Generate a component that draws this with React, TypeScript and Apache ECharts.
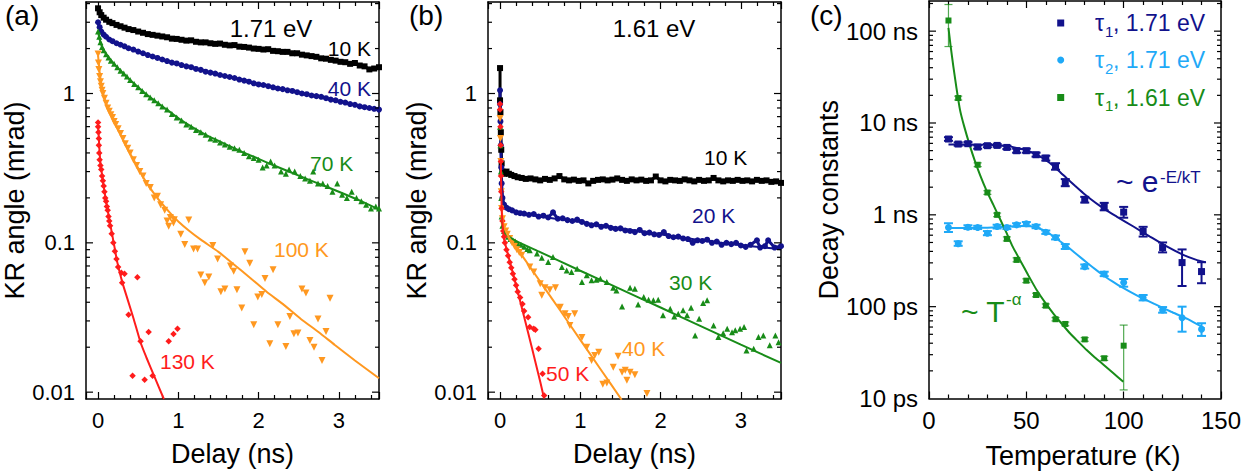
import React, { useEffect, useRef } from 'react';
import * as echarts from 'echarts';

const FONT = '"Liberation Sans", Arial, Helvetica, sans-serif';
const BLACK = '#000000';
const NAVY = '#12128c';
const GREEN = '#188c18';
const ORANGE = '#ff9820';
const RED = '#ff1c1c';
const SKY = '#1fa9f7';

// ---------------- Panel (a): 1.71 eV ----------------
const aBlack10K = [[0,3.72],[0.02,3.5],[0.04,3.35],[0.07,3.22],[0.1,3.12],[0.14,3.02],[0.18,2.96],[0.23,2.88],[0.28,2.82],[0.33,2.76],[0.38,2.7],[0.44,2.66],[0.5,2.6],[0.56,2.55],[0.62,2.5],[0.68,2.47],[0.74,2.44],[0.8,2.41],[0.86,2.38],[0.92,2.33],[0.98,2.32],[1.04,2.29],[1.1,2.26],[1.16,2.27],[1.22,2.22],[1.28,2.2],[1.34,2.2],[1.4,2.17],[1.46,2.15],[1.52,2.16],[1.58,2.12],[1.64,2.1],[1.7,2.11],[1.76,2.06],[1.82,2.05],[1.88,2.03],[1.94,2.0],[2.0,1.99],[2.06,1.97],[2.12,1.98],[2.18,1.93],[2.24,1.92],[2.3,1.9],[2.36,1.9],[2.42,1.86],[2.48,1.86],[2.54,1.82],[2.6,1.8],[2.66,1.78],[2.72,1.76],[2.78,1.72],[2.84,1.71],[2.9,1.68],[2.96,1.66],[3.02,1.63],[3.08,1.62],[3.14,1.58],[3.2,1.6],[3.26,1.54],[3.32,1.52],[3.38,1.45],[3.44,1.47],[3.5,1.5]];
const aBlue40K = [[0,3.0],[0.02,2.78],[0.04,2.6],[0.07,2.48],[0.1,2.4],[0.14,2.3],[0.18,2.24],[0.23,2.17],[0.28,2.12],[0.33,2.07],[0.38,2.01],[0.44,1.97],[0.5,1.91],[0.56,1.86],[0.62,1.81],[0.68,1.77],[0.74,1.73],[0.8,1.69],[0.86,1.65],[0.92,1.61],[0.98,1.59],[1.04,1.55],[1.1,1.52],[1.16,1.5],[1.22,1.46],[1.28,1.44],[1.34,1.4],[1.4,1.38],[1.46,1.36],[1.52,1.33],[1.58,1.31],[1.64,1.29],[1.7,1.27],[1.76,1.24],[1.82,1.22],[1.88,1.2],[1.94,1.17],[2.0,1.15],[2.06,1.14],[2.12,1.12],[2.18,1.1],[2.24,1.08],[2.3,1.07],[2.36,1.05],[2.42,1.04],[2.48,1.02],[2.54,1.0],[2.6,0.99],[2.66,0.97],[2.72,0.96],[2.78,0.95],[2.84,0.93],[2.9,0.91],[2.96,0.9],[3.02,0.88],[3.08,0.87],[3.14,0.85],[3.2,0.84],[3.26,0.82],[3.32,0.81],[3.38,0.8],[3.44,0.79],[3.5,0.78]];
const aGreen70K = [[0,2.6],[0.015,2.4],[0.03,2.2],[0.05,2.05],[0.07,1.95],[0.1,1.83],[0.13,1.74],[0.16,1.66],[0.2,1.58],[0.24,1.5],[0.28,1.42],[0.32,1.36],[0.36,1.3],[0.4,1.23],[0.45,1.16],[0.5,1.1],[0.55,1.04],[0.6,0.99],[0.65,0.94],[0.7,0.9],[0.75,0.86],[0.8,0.82],[0.86,0.78],[0.92,0.73],[0.98,0.69],[1.04,0.66],[1.1,0.62],[1.16,0.6],[1.22,0.57],[1.28,0.55],[1.34,0.53],[1.4,0.5],[1.46,0.49],[1.52,0.47],[1.58,0.455],[1.64,0.44],[1.7,0.43],[1.76,0.42],[1.82,0.4],[1.88,0.38],[1.94,0.37],[2.0,0.36],[2.05,0.32],[2.1,0.33],[2.15,0.35],[2.2,0.33],[2.28,0.3],[2.34,0.29],[2.38,0.31],[2.45,0.3],[2.52,0.28],[2.58,0.27],[2.64,0.26],[2.68,0.3],[2.74,0.25],[2.8,0.25],[2.86,0.24],[2.92,0.22],[2.98,0.25],[3.04,0.21],[3.1,0.2],[3.16,0.22],[3.22,0.2],[3.28,0.19],[3.34,0.18],[3.4,0.17],[3.46,0.175],[3.5,0.17]];
const aGreen70KFit = [[0,2.6],[0.03,2.2],[0.07,1.95],[0.12,1.78],[0.2,1.58],[0.3,1.39],[0.4,1.23],[0.5,1.1],[0.6,0.99],[0.75,0.86],[0.9,0.75],[1.05,0.655],[1.2,0.585],[1.4,0.51],[1.6,0.455],[1.8,0.405],[2.0,0.365],[2.2,0.328],[2.4,0.297],[2.6,0.268],[2.8,0.243],[3.0,0.22],[3.25,0.193],[3.5,0.167]];
const aOrange100K = [[0,1.84],[0.005,1.6],[0.01,1.45],[0.02,1.3],[0.03,1.2],[0.04,1.12],[0.05,1.05],[0.06,1.0],[0.08,0.93],[0.1,0.86],[0.12,0.8],[0.14,0.76],[0.16,0.72],[0.18,0.69],[0.2,0.65],[0.22,0.62],[0.25,0.58],[0.28,0.54],[0.31,0.5],[0.34,0.46],[0.37,0.43],[0.4,0.4],[0.44,0.36],[0.48,0.33],[0.52,0.3],[0.56,0.28],[0.6,0.25],[0.65,0.235],[0.7,0.2],[0.74,0.205],[0.78,0.18],[0.83,0.165],[0.86,0.14],[0.9,0.148],[0.95,0.143],
  [0.88,0.129],[0.94,0.136],[1.03,0.114],[1.08,0.0975],[1.13,0.142],[1.19,0.091],[1.24,0.091],[1.28,0.061],[1.33,0.054],[1.38,0.059],[1.43,0.096],[1.49,0.078],[1.53,0.047],[1.58,0.049],[1.65,0.07],[1.69,0.0645],[1.73,0.0486],[1.79,0.0366],[1.83,0.087],[1.89,0.073],[1.94,0.0283],[1.99,0.0434],[2.04,0.045],[2.08,0.0576],[2.14,0.0211],[2.18,0.066],[2.24,0.0283],[2.34,0.0202],[2.39,0.0321],[2.44,0.0246],[2.49,0.0249],[2.54,0.049],[2.59,0.0462],[2.64,0.0222],[2.69,0.02],[2.74,0.0309],[2.79,0.0163],[2.84,0.0255],[2.89,0.0425]];
const aOrange100KFit = [[0,1.8],[0.02,1.4],[0.04,1.15],[0.06,1.01],[0.1,0.86],[0.15,0.74],[0.2,0.645],[0.25,0.57],[0.3,0.505],[0.35,0.445],[0.4,0.395],[0.45,0.355],[0.53,0.295],[0.6,0.255],[0.7,0.213],[0.8,0.182],[0.9,0.158],[1.0,0.139],[1.13,0.121],[1.28,0.105],[1.5,0.087],[1.7,0.071],[1.9,0.058],[2.1,0.047],[2.3,0.039],[2.53,0.0308],[2.75,0.0252],[2.95,0.0207],[3.2,0.0163],[3.5,0.0124]];
const aRed130K = [[0,0.64],[0,0.6],[0.005,0.55],[0.01,0.5],[0.01,0.45],[0.015,0.4],[0.02,0.36],[0.03,0.33],[0.04,0.31],[0.05,0.28],[0.06,0.26],[0.07,0.24],[0.08,0.22],[0.09,0.2],[0.1,0.19],[0.11,0.175],[0.12,0.165],[0.13,0.15],[0.14,0.14],[0.15,0.13],[0.17,0.115],[0.19,0.1],[0.21,0.088],[0.23,0.078],[0.25,0.069],
  [0.29,0.063],[0.33,0.062],[0.3,0.054],[0.49,0.0588],[0.38,0.033],[0.53,0.0219],[0.63,0.0253],[0.43,0.0129],[0.58,0.0121],[0.68,0.0129],[0.88,0.0219],[0.94,0.0245],[0.99,0.0266]];
const aRed130KFit = [[0,0.62],[0.01,0.5],[0.02,0.4],[0.03,0.345],[0.05,0.285],[0.07,0.24],[0.09,0.205],[0.11,0.178],[0.15,0.135],[0.2,0.097],[0.24,0.074],[0.3,0.055],[0.37,0.0415],[0.445,0.0308],[0.53,0.0215],[0.6,0.0172],[0.7,0.0128],[0.82,0.009]];

// ---------------- Panel (b): 1.61 eV ----------------
const bBlack10K = [[0,1.48],[0,0.9],[0.005,0.75],[0.01,0.55],[0.015,0.42],[0.02,0.34],[0.03,0.3],[0.05,0.29],[0.08,0.3],[0.11,0.29],[0.14,0.285],[0.18,0.28],[0.22,0.275],[0.27,0.272],[0.32,0.268],[0.38,0.27],[0.44,0.266],[0.5,0.262],[0.56,0.268],[0.62,0.264],[0.68,0.27],[0.74,0.28],[0.8,0.266],[0.86,0.262],[0.92,0.265],[0.98,0.26],[1.04,0.262],[1.1,0.25],[1.16,0.26],[1.22,0.264],[1.28,0.266],[1.34,0.262],[1.4,0.265],[1.46,0.27],[1.52,0.264],[1.58,0.26],[1.64,0.266],[1.7,0.262],[1.76,0.265],[1.82,0.26],[1.88,0.262],[1.94,0.278],[2.0,0.262],[2.06,0.258],[2.12,0.264],[2.18,0.262],[2.24,0.26],[2.3,0.266],[2.36,0.262],[2.42,0.258],[2.48,0.264],[2.54,0.26],[2.6,0.262],[2.66,0.272],[2.72,0.262],[2.78,0.258],[2.84,0.262],[2.9,0.26],[2.96,0.264],[3.02,0.26],[3.08,0.262],[3.14,0.258],[3.2,0.264],[3.26,0.26],[3.32,0.262],[3.38,0.256],[3.44,0.258],[3.5,0.252]];
const bBlue20K = [[0,1.05],[0,0.85],[0.005,0.65],[0.01,0.45],[0.015,0.32],[0.02,0.25],[0.03,0.2],[0.05,0.18],[0.08,0.172],[0.11,0.168],[0.15,0.165],[0.2,0.16],[0.25,0.158],[0.3,0.157],[0.36,0.154],[0.42,0.156],[0.48,0.15],[0.54,0.152],[0.6,0.148],[0.66,0.16],[0.72,0.145],[0.78,0.146],[0.84,0.142],[0.9,0.14],[0.96,0.143],[1.02,0.138],[1.08,0.134],[1.14,0.131],[1.2,0.133],[1.26,0.128],[1.32,0.13],[1.38,0.126],[1.44,0.124],[1.5,0.125],[1.56,0.121],[1.62,0.12],[1.68,0.118],[1.74,0.122],[1.8,0.116],[1.86,0.117],[1.92,0.114],[1.98,0.113],[2.04,0.118],[2.1,0.111],[2.16,0.109],[2.22,0.11],[2.28,0.107],[2.34,0.106],[2.4,0.1],[2.46,0.104],[2.52,0.103],[2.58,0.105],[2.64,0.1],[2.7,0.102],[2.76,0.097],[2.82,0.1],[2.88,0.098],[2.94,0.1],[3.0,0.096],[3.06,0.094],[3.12,0.097],[3.2,0.104],[3.24,0.093],[3.3,0.095],[3.34,0.104],[3.42,0.093],[3.5,0.095]];
const bBlue20KFit = [[0.02,0.25],[0.04,0.19],[0.07,0.172],[0.12,0.166],[0.2,0.161],[0.4,0.153],[0.7,0.145],[1.0,0.138],[1.3,0.13],[1.6,0.123],[1.9,0.116],[2.2,0.11],[2.5,0.104],[2.8,0.0995],[3.1,0.0952],[3.5,0.0905]];
const bGreen30K = [[0,0.6],[0.005,0.45],[0.01,0.3],[0.015,0.2],[0.02,0.15],[0.03,0.13],[0.05,0.12],[0.07,0.115],[0.1,0.11],[0.13,0.106],[0.16,0.104],[0.19,0.102],[0.22,0.099],[0.26,0.097],[0.3,0.094],[0.34,0.091],
  [0.37,0.0891],[0.46,0.0847],[0.52,0.0796],[0.66,0.0804],[0.6,0.0744],[0.77,0.0689],[0.83,0.0654],[0.89,0.0637],[0.96,0.0671],[1.02,0.0546],[1.08,0.0606],[1.14,0.0561],[1.2,0.0566],[1.25,0.0575],[1.33,0.0546],[1.41,0.05],[1.45,0.048],[1.52,0.0375],[1.62,0.05],[1.68,0.0493],[1.72,0.0387],[1.79,0.0433],[1.85,0.0416],[1.91,0.0412],[1.97,0.0416],[2.03,0.0327],[2.12,0.0362],[2.17,0.0321],[2.22,0.0335],[2.28,0.0353],[2.33,0.0327],[2.38,0.0368],[2.43,0.024],[2.48,0.031],[2.53,0.0395],[2.58,0.0412],[2.66,0.028],[2.72,0.0234],[2.78,0.0248],[2.83,0.0266],[2.89,0.0252],[2.93,0.026],[2.99,0.0266],[3.04,0.0273],[3.07,0.019],[3.16,0.0195],[3.22,0.0234],[3.28,0.024],[3.36,0.0206],[3.43,0.024],[3.47,0.0216]];
const bGreen30KFit = [[0.02,0.15],[0.04,0.127],[0.08,0.114],[0.19,0.1035],[0.5,0.0867],[1.0,0.065],[1.5,0.049],[2.0,0.0369],[2.5,0.0277],[3.0,0.0208],[3.5,0.0157]];
const bOrange40K = [[0,0.68],[0.005,0.5],[0.01,0.35],[0.015,0.22],[0.02,0.17],[0.03,0.145],[0.05,0.128],[0.07,0.12],[0.09,0.114],[0.12,0.107],[0.15,0.1],[0.18,0.095],[0.21,0.09],[0.24,0.086],
  [0.27,0.0825],[0.37,0.0689],[0.42,0.0637],[0.5,0.0533],[0.56,0.05],[0.62,0.0486],[0.69,0.05],[0.52,0.0445],[0.75,0.0371],[0.81,0.0335],[0.85,0.0321],[0.87,0.028],[0.93,0.0335],[1.02,0.0232],[1.08,0.02],[1.14,0.0163],[1.18,0.0176],[1.23,0.0185],[1.28,0.0113],[1.33,0.0115],[1.41,0.0147],[1.47,0.0174],[1.52,0.0136],[1.56,0.014],[1.58,0.012],[1.62,0.0136],[1.68,0.0131],[1.83,0.0098]];
const bOrange40KFit = [[0.02,0.17],[0.04,0.133],[0.07,0.12],[0.12,0.107],[0.2,0.093],[0.29,0.08],[0.5,0.055],[0.75,0.0352],[1.0,0.0224],[1.25,0.0143],[1.515,0.0089]];
const bRed50K = [[0,0.85],[0,0.78],[0.005,0.6],[0.008,0.45],[0.01,0.35],[0.012,0.28],[0.015,0.22],[0.02,0.17],[0.03,0.14],[0.04,0.12],[0.05,0.11],[0.06,0.1],[0.08,0.09],[0.1,0.082],[0.12,0.074],[0.14,0.068],[0.16,0.062],[0.18,0.057],[0.2,0.052],[0.22,0.047],[0.25,0.043],[0.28,0.039],[0.3,0.035],
  [0.35,0.0318],[0.37,0.0273],[0.42,0.0266],[0.44,0.0262],[0.48,0.0195],[0.53,0.0133],[0.55,0.0095]];
const bRed50KFit = [[0.01,0.35],[0.02,0.17],[0.035,0.125],[0.05,0.106],[0.1,0.083],[0.2,0.052],[0.3,0.032],[0.4,0.0195],[0.5,0.0118],[0.548,0.0091]];

// ---------------- Panel (c): decay constants [T (K), tau (ns), low, high] ----------------
const cTau1_171 = [[10,6.69,6.4,7.0],[15,5.9,5.65,6.15],[20,5.95,5.7,6.2],[25,5.47,5.25,5.7],[30,5.66,5.45,5.9],[35,5.7,5.5,5.9],[40,5.42,5.2,5.65],[45,4.99,4.75,5.25],[50,4.99,4.75,5.25],[55,4.51,4.3,4.75],[60,4.15,3.9,4.4],[65,3.36,3.1,3.65],[70,2.25,2.05,2.45],[80,1.46,1.36,1.57],[90,1.23,1.12,1.35],[100,1.07,0.93,1.22],[110,0.658,0.58,0.74],[120,0.44,0.39,0.5],[130,0.302,0.168,0.42],[140,0.241,0.18,0.305]];
const cTau2_171 = [[10,0.727,0.65,0.81],[15,0.486,0.46,0.515],[20,0.734,0.7,0.77],[25,0.727,0.7,0.76],[30,0.631,0.6,0.665],[35,0.746,0.71,0.78],[40,0.727,0.7,0.76],[45,0.778,0.745,0.81],[50,0.798,0.76,0.835],[55,0.746,0.715,0.78],[60,0.647,0.62,0.675],[65,0.566,0.54,0.595],[70,0.452,0.425,0.48],[80,0.273,0.26,0.288],[90,0.227,0.215,0.24],[100,0.183,0.165,0.2],[110,0.125,0.117,0.134],[120,0.092,0.086,0.099],[130,0.0759,0.0534,0.1],[140,0.0567,0.048,0.066]];
const cTau1_161 = [[10,130.6,68,195],[15,18.7,17.8,19.6],[25,3.51,3.35,3.68],[30,1.75,1.67,1.83],[35,1.0,0.955,1.045],[40,0.547,0.52,0.575],[45,0.323,0.308,0.34],[50,0.192,0.183,0.201],[55,0.134,0.128,0.14],[60,0.1026,0.098,0.107],[65,0.073,0.07,0.076],[70,0.0648,0.062,0.068],[80,0.044,0.042,0.046],[90,0.0274,0.026,0.0288],[100,0.0376,0.0124,0.063]];
const cFit1_171 = [[10,5.82],[20,5.85],[30,5.8],[40,5.6],[45,5.35],[50,5.05],[53.6,4.71],[58,4.2],[62.1,3.66],[66,3.1],[70.7,2.51],[75,2.07],[79.3,1.72],[83.5,1.46],[87.8,1.25],[92,1.09],[96.4,0.958],[105,0.746],[113.5,0.58],[122.1,0.452],[130.6,0.366],[137,0.325],[142,0.305]];
const cFit2_171 = [[10,0.72],[20,0.72],[30,0.725],[40,0.74],[47,0.755],[52,0.75],[56,0.72],[60.5,0.652],[65,0.56],[71,0.452],[76,0.37],[81.5,0.297],[86,0.25],[90,0.216],[94,0.19],[98.6,0.165],[107.2,0.131],[115.8,0.107],[124.4,0.088],[133,0.073],[141.5,0.058]];
const cFit1_161 = [[10,108.6],[11,72],[12.5,41.4],[14,24.9],[15.9,14],[18,9.3],[21.1,5.56],[23.5,3.9],[26.2,2.73],[29.5,1.85],[33,1.29],[36.5,0.9],[39.9,0.631],[43,0.45],[46.7,0.323],[51,0.22],[55.3,0.152],[59.5,0.112],[63.8,0.0847],[68,0.066],[72.4,0.0513],[76.7,0.0415],[81,0.0337],[85.2,0.028],[89.5,0.0235],[94.6,0.019],[99.8,0.0152]];

// tick labels / axis ranges
const aTicksX = [0, 1, 2, 3];
const cTicksX = [0, 50, 100, 150];
const abRange = { xmin: -0.15, xmax: 3.5, ymin: 0.009, ymax: 4.1 };
const cRange = { xmin: 0, xmax: 150, ymin: 0.01, ymax: 213 };

function logTicks(lo: number, hi: number) {
  const out: number[][] = [];
  for (let e = Math.floor(Math.log10(lo)) - 1; e <= Math.ceil(Math.log10(hi)); e++) {
    for (let m = 1; m <= 9; m++) {
      const v = +(m * Math.pow(10, e)).toPrecision(6);
      if (v > lo * 1.0001 && v < hi / 1.0001) out.push([v, m === 1 ? 1 : 0]);
    }
  }
  return out;
}

const isPow10 = (v: number) => Math.abs(Math.log10(v) - Math.round(Math.log10(v))) < 1e-6;

function buildOption() {
  const axisLine = { show: true, onZero: false, lineStyle: { color: '#000', width: 1.5 } };
  const tickStyle = { color: '#000', width: 1.2 };
  const nameStyle = { color: '#000', fontSize: 27, fontFamily: FONT };

  const xPair = (grid: number, r: any, ticks: number[], name: string, nameGap: number, extra: any, fs: number) => {
    const base: any = {
      type: 'value', gridIndex: grid, min: r.xmin, max: r.xmax, splitLine: { show: false },
      axisLine, axisTick: { show: true, inside: true, length: 7, lineStyle: tickStyle },
      minorTick: { show: true, splitNumber: 5, length: 4, lineStyle: tickStyle }, ...extra,
    };
    return [
      { ...base, position: 'bottom',
        axisLabel: { color: '#000', fontSize: fs, fontFamily: FONT, margin: 10, showMinLabel: ticks.includes(r.xmin), showMaxLabel: ticks.includes(r.xmax),
          formatter: (v: number) => (ticks.includes(Math.round(v * 1000) / 1000) ? String(Math.round(v)) : '') },
        name, nameLocation: 'middle', nameGap, nameTextStyle: nameStyle },
      { ...base, position: 'top', axisLabel: { show: false } },
    ];
  };
  const yPair = (grid: number, r: any, fmt: (v: number) => string, name: string, nameGap: number, fs: number) => {
    const base: any = {
      type: 'log', logBase: 10, gridIndex: grid, min: r.ymin, max: r.ymax, splitLine: { show: false },
      axisLine, axisTick: { show: false }, minorTick: { show: false }, minorSplitLine: { show: false },
    };
    return [
      { ...base, position: 'left', axisLabel: { color: '#000', fontSize: fs, fontFamily: FONT, margin: 11, formatter: (v: number) => (isPow10(v) ? fmt(v) : '') },
        name, nameLocation: 'middle', nameGap, nameTextStyle: nameStyle },
      { ...base, position: 'right', axisLabel: { show: false } },
    ];
  };
  const fmtAB = (v: number) => (v >= 1 ? String(Math.round(v)) : String(+v.toPrecision(1)));
  const fmtC = (v: number) => (v >= 1 ? `${Math.round(v)} ns` : `${Math.round(v * 1000)} ps`);

  const tickSeries = (ax: number, r: any, xval: number) => ({
    type: 'custom', xAxisIndex: ax, yAxisIndex: ax, silent: true, clip: false, z: 10,
    data: logTicks(r.ymin, r.ymax).map((t) => [xval, t[0], t[1]]),
    encode: { x: 0, y: 1 },
    renderItem: (params: any, api: any) => {
      const cs = params.coordSys;
      const y = api.coord([api.value(0), api.value(1)])[1];
      const len = api.value(2) ? 7 : 4;
      const st = { stroke: '#000', lineWidth: 1.2 };
      return { type: 'group', children: [
        { type: 'line', shape: { x1: cs.x, y1: y, x2: cs.x + len, y2: y }, style: st },
        { type: 'line', shape: { x1: cs.x + cs.width, y1: y, x2: cs.x + cs.width - len, y2: y }, style: st },
      ] };
    },
  });

  const errSeries = (data: number[][], color: string, lw: number, hw: number, opacity: number) => ({
    type: 'custom', xAxisIndex: 4, yAxisIndex: 4, silent: true, z: 3,
    data: data.map((d) => [d[0], d[2], d[3]]), encode: { x: 0, y: [1, 2] },
    renderItem: (params: any, api: any) => {
      const p1 = api.coord([api.value(0), api.value(1)]);
      const p2 = api.coord([api.value(0), api.value(2)]);
      const st = { stroke: color, lineWidth: lw, opacity };
      return { type: 'group', children: [
        { type: 'line', shape: { x1: p1[0], y1: p1[1], x2: p2[0], y2: p2[1] }, style: st },
        { type: 'line', shape: { x1: p1[0] - hw, y1: p1[1], x2: p1[0] + hw, y2: p1[1] }, style: st },
        { type: 'line', shape: { x1: p2[0] - hw, y1: p2[1], x2: p2[0] + hw, y2: p2[1] }, style: st },
      ] };
    },
  });

  const dense = (ax: number, data: number[][], color: string, symbol: string, size: number) => ({
    type: 'line', xAxisIndex: ax, yAxisIndex: ax, data, symbol, symbolSize: size, showSymbol: true, showAllSymbol: true,
    lineStyle: { color, width: 3 }, itemStyle: { color, borderWidth: 0 }, z: 4, silent: true,
  });
  const scat = (ax: number, data: number[][], color: string, symbol: string, size: number, rot = 0) => ({
    type: 'scatter', xAxisIndex: ax, yAxisIndex: ax, data, symbol, symbolSize: size, symbolRotate: rot,
    itemStyle: { color, opacity: 1 }, z: 4, silent: true,
  });
  const fit = (ax: number, data: number[][], color: string, width = 2) => ({
    type: 'line', xAxisIndex: ax, yAxisIndex: ax, data, symbol: 'none', smooth: 0.2,
    lineStyle: { color, width }, z: 5, silent: true,
  });
  const scatC = (data: number[][], color: string, symbol: string, size: number) => ({
    type: 'scatter', xAxisIndex: 4, yAxisIndex: 4, data: data.map((d) => [d[0], d[1]]), symbol, symbolSize: size,
    itemStyle: { color, opacity: 1 }, z: 6, silent: true,
  });

  const txt = (text: string, x: number, y: number, color: string, size: number, align = 'left') => ({
    type: 'text', x, y, silent: true,
    style: { text, fill: color, fontSize: size, fontFamily: FONT, align, verticalAlign: 'middle' },
  });

  const legendRow = (y: number, color: string, sub: string, rest: string, circle: boolean) => [
    circle
      ? { type: 'circle', shape: { cx: 1060.7, cy: y, r: 3.5 }, style: { fill: color }, silent: true }
      : { type: 'rect', shape: { x: 1057.2, y: y - 3.5, width: 7, height: 7 }, style: { fill: color }, silent: true },
    txt('τ', 1095, y, color, 23),
    txt(sub, 1105, y + 8, color, 15),
    txt(rest, 1113, y, color, 23),
  ];

  return {
    animation: false,
    backgroundColor: '#ffffff',
    grid: [
      { left: 86, top: 2, width: 293, height: 397, outerBoundsMode: 'none' },
      { left: 488, top: 2, width: 293, height: 397, outerBoundsMode: 'none' },
      { left: 929, top: 1, width: 292, height: 397.5, outerBoundsMode: 'none' },
    ],
    xAxis: [
      ...xPair(0, abRange, aTicksX, 'Delay (ns)', 41, { minInterval: 1, maxInterval: 1 }, 22),
      ...xPair(1, abRange, aTicksX, 'Delay (ns)', 41, { minInterval: 1, maxInterval: 1 }, 22),
      ...xPair(2, cRange, cTicksX, '', 41, { interval: 50 }, 24),
    ],
    yAxis: [
      ...yPair(0, abRange, fmtAB, 'KR angle (mrad)', 47, 22),
      ...yPair(1, abRange, fmtAB, 'KR angle (mrad)', 43, 22),
      ...yPair(2, cRange, fmtC, 'Decay constants', 85, 24),
    ],
    series: [
      // panel (a)
      dense(0, aBlack10K, BLACK, 'rect', 6),
      dense(0, aBlue40K, NAVY, 'circle', 6),
      scat(0, aGreen70K, GREEN, 'triangle', 6),
      scat(0, aOrange100K, ORANGE, 'triangle', 7, 180),
      scat(0, aRed130K, RED, 'diamond', 6.5),
      fit(0, aGreen70KFit, GREEN),
      fit(0, aOrange100KFit, ORANGE),
      fit(0, aRed130KFit, RED),
      tickSeries(0, abRange, 1),
      // panel (b)
      dense(2, bBlack10K, BLACK, 'rect', 6),
      dense(2, bBlue20K, NAVY, 'circle', 6),
      scat(2, bGreen30K, GREEN, 'triangle', 6),
      scat(2, bOrange40K, ORANGE, 'triangle', 7, 180),
      scat(2, bRed50K, RED, 'diamond', 6.5),
      fit(2, bBlue20KFit, NAVY),
      fit(2, bGreen30KFit, GREEN),
      fit(2, bOrange40KFit, ORANGE),
      fit(2, bRed50KFit, RED),
      tickSeries(2, abRange, 1),
      // panel (c)
      errSeries(cTau1_171, NAVY, 2, 4.5, 1),
      errSeries(cTau2_171, SKY, 2, 4.5, 1),
      errSeries(cTau1_161, GREEN, 1.2, 4, 0.75),
      fit(4, cFit1_171, NAVY),
      fit(4, cFit2_171, SKY),
      fit(4, cFit1_161, GREEN),
      scatC(cTau1_171, NAVY, 'rect', 7),
      scatC(cTau2_171, SKY, 'circle', 7),
      scatC(cTau1_161, GREEN, 'rect', 6),
      tickSeries(4, cRange, 50),
    ],
    graphic: { elements: [
      txt('(a)', 5, 15, BLACK, 28),
      txt('(b)', 409, 15, BLACK, 28),
      txt('(c)', 810, 15, BLACK, 28),
      txt('Temperature (K)', 1083, 456, BLACK, 27, 'center'),
      txt('1.71 eV', 271, 28, BLACK, 24, 'center'),
      txt('10 K', 371, 48, BLACK, 21, 'right'),
      txt('40 K', 371, 88, NAVY, 21, 'right'),
      txt('70 K', 310, 163, GREEN, 21),
      txt('100 K', 274, 249, ORANGE, 21),
      txt('130 K', 160, 361, RED, 21),
      txt('1.61 eV', 654, 28, BLACK, 24, 'center'),
      txt('10 K', 704, 157, BLACK, 21),
      txt('20 K', 692, 215, NAVY, 21),
      txt('30 K', 669, 282, GREEN, 21),
      txt('40 K', 622, 348, ORANGE, 21),
      txt('50 K', 546, 373, RED, 21),
      ...legendRow(23, NAVY, '1', ', 1.71 eV', false),
      ...legendRow(60, SKY, '2', ', 1.71 eV', true),
      ...legendRow(97.5, GREEN, '1', ', 1.61 eV', false),
      txt('~ e', 1116, 181, NAVY, 30),
      txt('-E/kT', 1160, 177, NAVY, 17),
      txt('~ T', 961, 311, GREEN, 30),
      txt('-α', 1006, 299, GREEN, 17),
    ] },
  };
}

export default function App() {
  const ref = useRef<HTMLDivElement>(null);
  useEffect(() => {
    if (!ref.current) return;
    const chart = echarts.init(ref.current, null, { renderer: 'svg' });
    chart.setOption(buildOption() as any);
    return () => chart.dispose();
  }, []);
  return <div ref={ref} style={{ position: 'absolute', left: 0, top: 0, width: 1256, height: 471, background: '#fff' }} />;
}
